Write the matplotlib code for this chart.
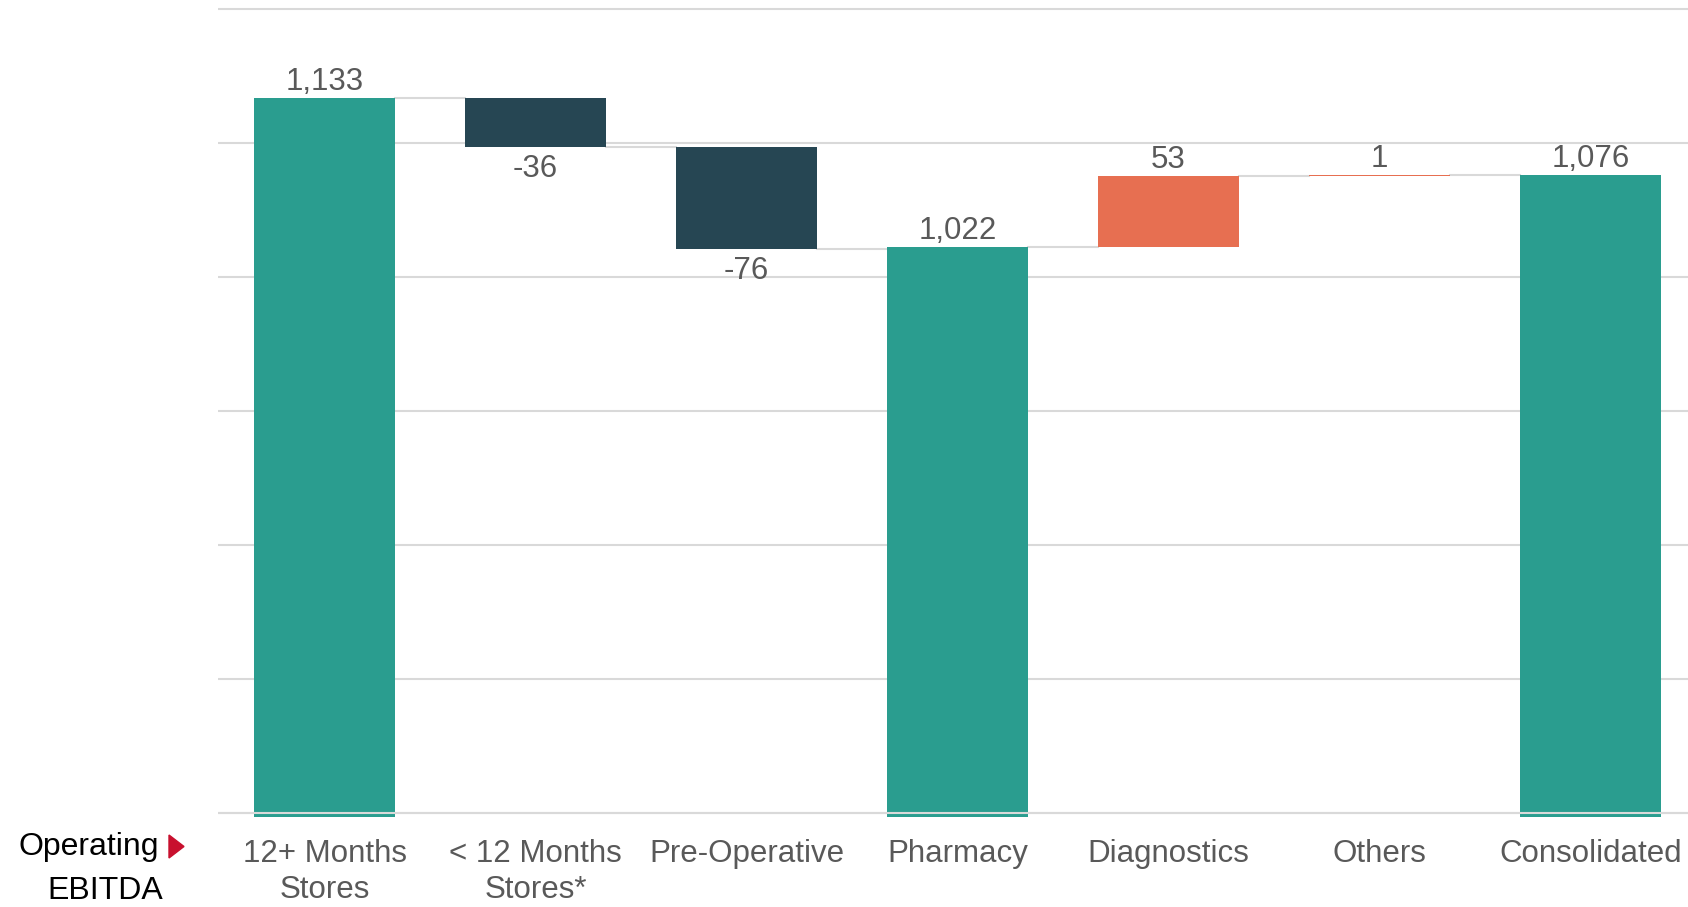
import matplotlib
matplotlib.use("Agg")
import matplotlib.pyplot as plt
from matplotlib import font_manager

# chart data (INR mn)
categories = ["12+ Months\nStores", "< 12 Months\nStores*", "Pre-Operative", "Pharmacy",
              "Diagnostics", "Others", "Consolidated"]
values = [1133, -36, -76, 1022, 53, 1, 1076]
kinds = ["total", "delta", "delta", "total", "delta", "delta", "total"]
labels = ["1,133", "-36", "-76", "1,022", "53", "1", "1,076"]
y_ticks = [600, 700, 800, 900, 1000, 1100, 1200]

TEAL = "#2A9D8F"
NAVY = "#264653"
ORANGE = "#E76F51"
GRID = "#D9D9D9"
TEXT = "#595959"

names = {f.name for f in font_manager.fontManager.ttflist}
narrow = "Liberation Sans Narrow" if "Liberation Sans Narrow" in names else "Liberation Sans"
left_size = 25 if narrow == "Liberation Sans Narrow" else 23
plt.rcParams["font.family"] = ["Liberation Sans", "DejaVu Sans"]

fig = plt.figure(figsize=(16.88, 9.07), dpi=100)
ax = fig.add_axes([0.129, 0.0992, 0.871, 0.8928])
ax.set_xlim(-0.507, 6.463)
ax.set_ylim(597, 1201)

bar_w = 0.668
running = 0
tops = []
for i, (v, k) in enumerate(zip(values, kinds)):
    if k == "total":
        bottom, top = 0, v
        color = TEAL
        running = v
    else:
        bottom = running
        top = running + v
        color = NAVY if v < 0 else ORANGE
        running = top
    lo, hi = min(bottom, top), max(bottom, top)
    ax.bar(i, hi - lo, bottom=lo, width=bar_w, color=color, zorder=2)
    tops.append(running)
    if v < 0:
        ax.annotate(labels[i], (i, lo), xytext=(0, -5.5), textcoords="offset points",
                    ha="center", va="top", fontsize=22.5, color=TEXT)
    else:
        ax.annotate(labels[i], (i, hi), xytext=(0, 0.8), textcoords="offset points",
                    ha="center", va="bottom", fontsize=22.5, color=TEXT)

# connectors between bars
for i in range(len(values) - 1):
    ax.plot([i + bar_w / 2, i + 1 - bar_w / 2], [tops[i], tops[i]],
            color=GRID, lw=1.5, zorder=1)

ax.set_yticks(y_ticks)
ax.yaxis.grid(True, color=GRID, lw=1.5, zorder=0)
ax.set_axisbelow(True)
ax.axhline(600, color=GRID, lw=1.5, zorder=3)
ax.tick_params(axis="y", left=False, labelleft=False)
ax.tick_params(axis="x", bottom=False, pad=12.5)
ax.set_xticks(range(len(categories)))
ax.set_xticklabels(categories, fontsize=22.5, color=TEXT, linespacing=1.25)
for s in ax.spines.values():
    s.set_visible(False)

# left-hand row label
fig.text(89 / 1688, 1 - 847 / 907, "Operating", ha="center", va="center",
         fontsize=left_size, family=[narrow, "DejaVu Sans"], color="black")
fig.text(105 / 1688, 1 - 891 / 907, "EBITDA", ha="center", va="center",
         fontsize=left_size, family=[narrow, "DejaVu Sans"], color="black")
fig.patches.append(plt.Polygon([[169 / 1688, 1 - 835 / 907], [169 / 1688, 1 - 858 / 907],
                                [184 / 1688, 1 - 846.5 / 907]], closed=True,
                               transform=fig.transFigure, color="#C8102E"))

fig.savefig("out.png", dpi=100)
